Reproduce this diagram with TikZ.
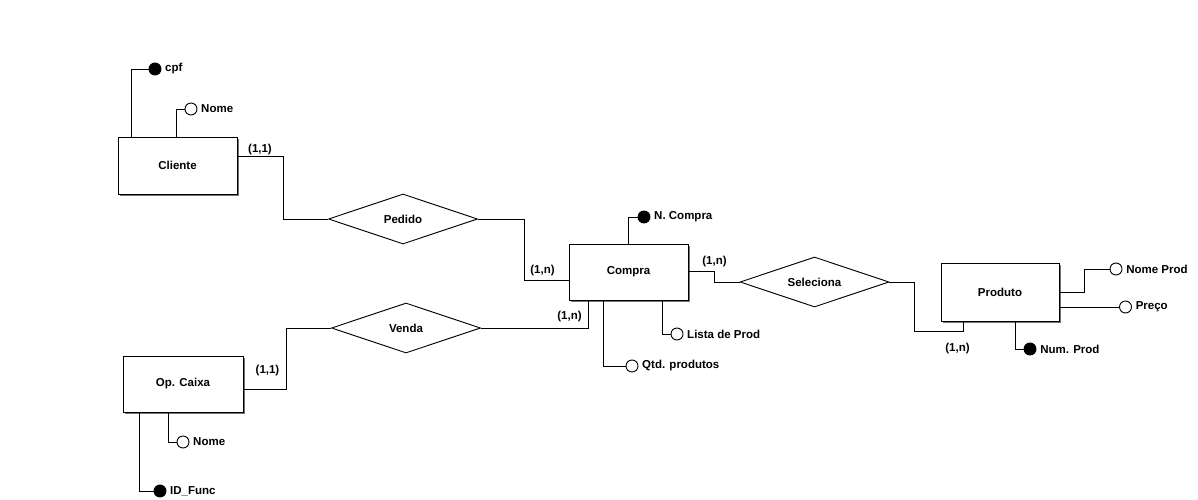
\documentclass[tikz,border=0pt]{standalone}
\usepackage{fontspec}
\setmainfont{Liberation Sans}
\usetikzlibrary{shapes.geometric,shadows}
\begin{document}
\begin{tikzpicture}[x=1pt,y=-1pt,line width=0.9pt,
  font=\fontsize{11.5}{13}\selectfont\bfseries,
  entity/.style={draw,fill=white,inner sep=0pt,
    drop shadow={shadow xshift=2pt,shadow yshift=-2pt,fill=black!55,opacity=1}},
  relation/.style={draw,fill=white,diamond,aspect=3,inner sep=0pt,minimum width=149pt,minimum height=50pt},
  attr/.style={draw,circle,fill=white,inner sep=0pt,minimum size=12pt},
  keyattr/.style={attr,fill=black},
  card/.style={inner sep=0pt}]
\useasboundingbox (0,0) rectangle (1198,500);

% entities
\node (cliente) [entity,minimum width=119pt,minimum height=57pt] at (177.5,165.5) {Cliente};
\node (compra) [entity,minimum width=119pt,minimum height=56pt] at (628.5,272) {Compra};
\node (produto) [entity,minimum width=118pt,minimum height=58pt] at (1000,292) {Produto};
\node (opcaixa) [entity,minimum width=120pt,minimum height=56pt] at (183,384) {Op. Caixa};

% relations
\node (pedido) [relation] at (403,219) {Pedido};
\node (venda) [relation] at (406,328) {Venda};
\node (seleciona) [relation] at (814.5,282) {Seleciona};

% attributes
\node (cpf) [keyattr,label=right:cpf] at (155,69) {};
\node (cnome) [attr,label=right:Nome] at (191,109) {};
\node (ncompra) [keyattr,label=right:N. Compra] at (644,217) {};
\node (lista) [attr,label=right:Lista de Prod] at (677,334) {};
\node (qtd) [attr,label=right:Qtd. produtos] at (632,366) {};
\node (nomeprod) [attr,label=right:Nome Prod] at (1116,269) {};
\node (preco) [attr,label=right:Preço] at (1125.5,307) {};
\node (numprod) [keyattr,label=right:Num. Prod] at (1030,349) {};
\node (onome) [attr,label=right:Nome] at (183,442) {};
\node (idfunc) [keyattr,label=right:ID\_Func] at (160,491) {};

% attribute lines
\draw ([xshift=14pt]cliente.north west) |- (cpf);
\draw ([xshift=59pt]cliente.north west) |- (cnome);
\draw (compra.north) |- (ncompra);
\draw ([xshift=34pt]compra.south) |- (lista);
\draw ([xshift=-25.5pt]compra.south) |- (qtd);
\draw (produto.east) -- ++(25,0) |- (nomeprod);
\draw ([yshift=-15pt]produto.east) -- (preco);
\draw ([xshift=15pt]produto.south) |- (numprod);
\draw ([xshift=-15pt]opcaixa.south) |- (onome);
\draw ([xshift=-44pt]opcaixa.south) |- (idfunc);

% relation lines
\draw ([yshift=-20pt]cliente.north east) -- ++(46,0) |- (pedido.west);
\draw (pedido.east) -- ++(46,0) |- ([yshift=-8pt]compra.west);
\draw ([yshift=-5pt]opcaixa.east) -- ++(43,0) |- (venda.west);
\draw ([xshift=-40pt]compra.south) |- (venda.east);
\draw ([yshift=1pt]compra.east) -- ++(26,0) |- (seleciona.west);
\draw (seleciona.east) -| ++(25,49) -| ([xshift=-37pt]produto.south);

% cardinalities
\node (c1) [card] at (260,149.5) {(1,1)};
\node (c2) [card] at (542.5,271) {(1,n)};
\node (c3) [card] at (714.5,262) {(1,n)};
\node (c4) [card] at (569.5,316.5) {(1,n)};
\node (c5) [card] at (957.5,349) {(1,n)};
\node (c6) [card] at (267.5,370.5) {(1,1)};
\end{tikzpicture}
\end{document}
